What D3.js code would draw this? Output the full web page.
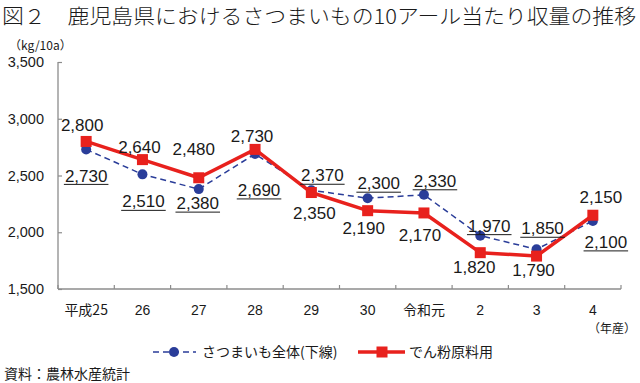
<!DOCTYPE html>
<html><head><meta charset="utf-8">
<script src="https://cdn.jsdelivr.net/npm/d3@7"></script>
<style>
html,body{margin:0;padding:0;background:#fff;}
svg{display:block;}
text{fill:#1a1a1a;}
</style></head>
<body>
<svg id="c" width="640" height="383"></svg>
<script>
const categories = ["平成25","26","27","28","29","30","令和元","2","3","4"];
const totalValues = [2730,2510,2380,2690,2370,2300,2330,1970,1850,2100];   // さつまいも全体(下線)
const starchValues = [2800,2640,2480,2730,2350,2190,2170,1820,1790,2150]; // でん粉原料用
const yTicks = [1500,2000,2500,3000,3500];
const seriesNames = ["さつまいも全体(下線)","でん粉原料用"];

// label nudges (layout only, px relative to point)
const totalLabelNudge = [[0,26],[1,27],[-1,14],[4,36],[11,-15],[11,-15],[11,-14],[9,-10],[6,-21],[13,21]];
const starchLabelNudge = [[-4,-17],[-3,-13],[-5,-29],[-3,-14],[3,20],[-4,17],[-4,22],[-6,14],[-3,14],[8,-18]];

(function(){
const svg = d3.select("#c");
const JP = "'Noto Sans CJK JP','Noto Sans',sans-serif";
const NUM = "'Liberation Sans',Arial,sans-serif";
const fmt = d3.format(",");

const pL = 58, pR = 621, pT = 62, pB = 289;
const x = d3.scaleBand().domain(categories).range([pL, pR]);
const y = d3.scaleLinear().domain([1500,3500]).range([pB, pT]);
const cx = d => x(d) + x.bandwidth()/2;

// title
svg.append("text").attr("x",2).attr("y",23.5)
  .attr("font-family",JP).attr("font-size",20).attr("font-weight",300)
  .attr("textLength",634).attr("lengthAdjust","spacingAndGlyphs")
  .text("図２　鹿児島県におけるさつまいもの10アール当たり収量の推移");

// unit
svg.append("text").attr("x",9).attr("y",50)
  .attr("font-family",JP).attr("font-size",12).text("（kg/10a）");

// axes
const axisColor = "#8c8c8c";
const yAxis = svg.append("g").attr("transform",`translate(${pL},0)`)
  .call(d3.axisLeft(y).tickValues(yTicks).tickSize(-4).tickFormat(fmt).tickPadding(14));
yAxis.select(".domain").attr("stroke",axisColor).attr("stroke-width",1.3).attr("d",`M0,${pT}V${pB}`);
yAxis.selectAll(".tick line").attr("stroke",axisColor).attr("stroke-width",1.2);
yAxis.selectAll(".tick text").attr("font-family",NUM).attr("font-size",14.5).attr("fill","#1a1a1a");

const xg = svg.append("g").attr("transform",`translate(0,${pB})`);
xg.append("line").attr("x1",pL).attr("x2",pR).attr("stroke",axisColor).attr("stroke-width",1.3);
const bounds = categories.map(c => x(c)).concat([pR]);
xg.selectAll("line.t").data(bounds).join("line").attr("class","t")
  .attr("x1",d=>d).attr("x2",d=>d).attr("y1",-4).attr("y2",0)
  .attr("stroke",axisColor).attr("stroke-width",1.2);
xg.selectAll("text.l").data(categories).join("text").attr("class","l")
  .attr("x",d=>cx(d)).attr("y",26).attr("text-anchor","middle")
  .attr("font-family",d=>/^\d+$/.test(d)?NUM:JP).attr("font-size",14)
  .text(d=>d);
svg.append("text").attr("x",612).attr("y",333).attr("text-anchor","middle")
  .attr("font-family",JP).attr("font-size",12).text("（年産）");

// series
const blue = "#2a3d99", red = "#e8211d";
const line = vals => d3.line().x((d,i)=>cx(categories[i])).y(d=>y(d))(vals);

svg.append("path").attr("d",line(totalValues)).attr("fill","none")
  .attr("stroke",blue).attr("stroke-width",1.5).attr("stroke-dasharray","6,4");
svg.selectAll("circle.tot").data(totalValues).join("circle").attr("class","tot")
  .attr("cx",(d,i)=>cx(categories[i])).attr("cy",d=>y(d)).attr("r",5).attr("fill",blue);

svg.append("path").attr("d",line(starchValues)).attr("fill","none")
  .attr("stroke",red).attr("stroke-width",3.5).attr("stroke-linejoin","round");
svg.selectAll("rect.st").data(starchValues).join("rect").attr("class","st")
  .attr("x",(d,i)=>cx(categories[i])-5.5).attr("y",d=>y(d)-5.5)
  .attr("width",11).attr("height",11).attr("fill",red);

// labels
function labels(vals, nudges, underline){
  vals.forEach((v,i)=>{
    const px = cx(categories[i]) + nudges[i][0];
    const py = y(v) + nudges[i][1];
    const t = svg.append("text").attr("x",px).attr("y",py).attr("dy","0.36em")
      .attr("text-anchor","middle").attr("font-family",NUM).attr("font-size",17)
      .text(fmt(v));
    if(underline){
      const w = t.node().getComputedTextLength();
      svg.append("line").attr("x1",px-w/2-1).attr("x2",px+w/2+1)
        .attr("y1",py+9).attr("y2",py+9).attr("stroke","#1a1a1a").attr("stroke-width",1);
    }
  });
}
labels(starchValues, starchLabelNudge, false);
labels(totalValues, totalLabelNudge, true);

// legend
const ly = 352;
const lg = svg.append("g");
lg.append("line").attr("x1",152).attr("x2",196).attr("y1",ly).attr("y2",ly)
  .attr("stroke",blue).attr("stroke-width",1.5).attr("stroke-dasharray","6,4").attr("stroke-dashoffset",-1);
lg.append("circle").attr("cx",174).attr("cy",ly).attr("r",5).attr("fill",blue);
lg.append("text").attr("x",202).attr("y",ly).attr("dy","0.36em")
  .attr("font-family",JP).attr("font-size",14).text(seriesNames[0]);
lg.append("line").attr("x1",358).attr("x2",405).attr("y1",ly).attr("y2",ly)
  .attr("stroke",red).attr("stroke-width",3.5);
lg.append("rect").attr("x",376.5).attr("y",ly-5.5).attr("width",11).attr("height",11).attr("fill",red);
lg.append("text").attr("x",409).attr("y",ly).attr("dy","0.36em")
  .attr("font-family",JP).attr("font-size",14).text(seriesNames[1]);

// source
svg.append("text").attr("x",4).attr("y",379)
  .attr("font-family",JP).attr("font-size",14).text("資料：農林水産統計");
})();
</script>
</body></html>
